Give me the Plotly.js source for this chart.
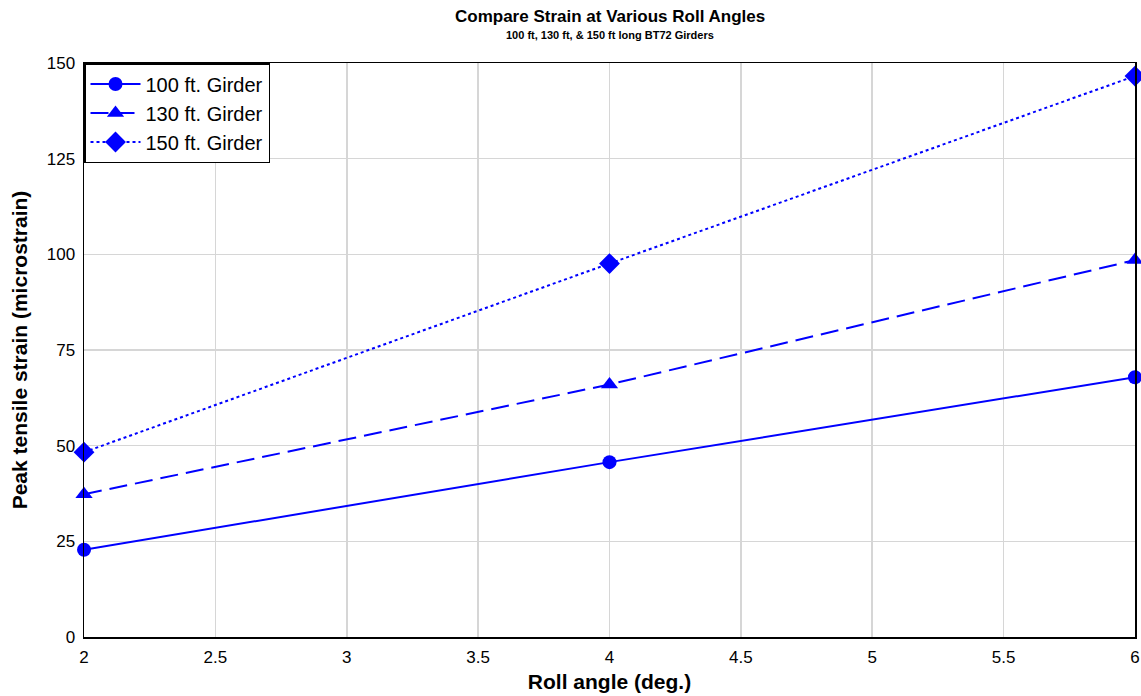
<!DOCTYPE html>
<html>
<head>
<meta charset="utf-8">
<script src="https://cdn.plot.ly/plotly-3.0.1.min.js"></script>
<style>html,body{margin:0;padding:0;background:#fff;}#chart{width:1141px;height:696px;}</style>
</head>
<body>
<div id="chart"></div>
<script>
const rollAngles = [2, 4, 6];
const girder100 = [22.8, 45.7, 67.9];
const girder130 = [37.3, 66.0, 98.5];
const girder150 = [48.3, 97.6, 146.6];
const seriesNames = ["100 ft. Girder", "130 ft. Girder", "150 ft. Girder"];
const xTicks = [2, 2.5, 3, 3.5, 4, 4.5, 5, 5.5, 6];
const yTicks = [0, 25, 50, 75, 100, 125, 150];
const chartTitle = "Compare Strain at Various Roll Angles";
const chartSubtitle = "100 ft, 130 ft, &amp; 150 ft long BT72 Girders";

const blue = "#0000FF";
const traces = [
  {x: rollAngles, y: girder100, name: seriesNames[0], mode: "lines+markers", cliponaxis: false,
   line: {color: blue, width: 2, dash: "solid"}, marker: {symbol: "circle", size: 14, color: blue}},
  {x: rollAngles, y: girder130, name: seriesNames[1], mode: "lines+markers", cliponaxis: false,
   line: {color: blue, width: 2, dash: "18px,8px"}, marker: {symbol: "triangle-up", size: 15, color: blue}},
  {x: rollAngles, y: girder150, name: seriesNames[2], mode: "lines+markers", cliponaxis: false,
   line: {color: blue, width: 2, dash: "dot"}, marker: {symbol: "diamond", size: 16, color: blue}}
];

const layout = {
  width: 1141, height: 696,
  margin: {l: 84, r: 6, t: 63, b: 59},
  paper_bgcolor: "#fff", plot_bgcolor: "#fff",
  font: {family: "Liberation Sans, Arial, sans-serif", color: "#000"},
  annotations: [
    {text: "<b>" + chartTitle + "</b>", xref: "paper", yref: "paper", x: 0.5, y: 1, yshift: 47,
     xanchor: "center", yanchor: "middle", showarrow: false, font: {size: 17, color: "#000"}},
    {text: "<b>" + chartSubtitle + "</b>", xref: "paper", yref: "paper", x: 0.5, y: 1, yshift: 28,
     xanchor: "center", yanchor: "middle", showarrow: false, font: {size: 11, color: "#000"}}
  ],
  xaxis: {
    range: [1.9999, 6.0001], tickvals: xTicks, ticktext: xTicks.map(String),
    showgrid: true, gridcolor: "#d6d6d6", gridwidth: 1.5,
    showline: true, linecolor: "#000", linewidth: 1.5, mirror: true,
    zeroline: false, ticks: "", tickfont: {size: 17, color: "#000"},
    ticklabeloverflow: "allow", ticklabelstandoff: 4,
    title: {text: "<b>Roll angle (deg.)</b>", font: {size: 21, color: "#000"}, standoff: 8}
  },
  yaxis: {
    range: [0, 150.01], tickvals: yTicks,
    showgrid: true, gridcolor: "#d6d6d6", gridwidth: 1.5,
    showline: true, linecolor: "#000", linewidth: 1.5, mirror: true,
    zeroline: false, ticks: "", tickfont: {size: 17, color: "#000"},
    ticklabelstandoff: 4,
    title: {text: "<b>Peak tensile strain (microstrain)</b>", font: {size: 21, color: "#000"}, standoff: 13}
  },
  legend: {
    x: 0, y: 1, xanchor: "left", yanchor: "top",
    bgcolor: "#fff", bordercolor: "#000", borderwidth: 1.5,
    font: {size: 20, color: "#000"}, itemwidth: 50, tracegroupgap: 0
  },
  showlegend: true
};

Plotly.newPlot("chart", traces, layout, {displayModeBar: false, staticPlot: true});
</script>
</body>
</html>
